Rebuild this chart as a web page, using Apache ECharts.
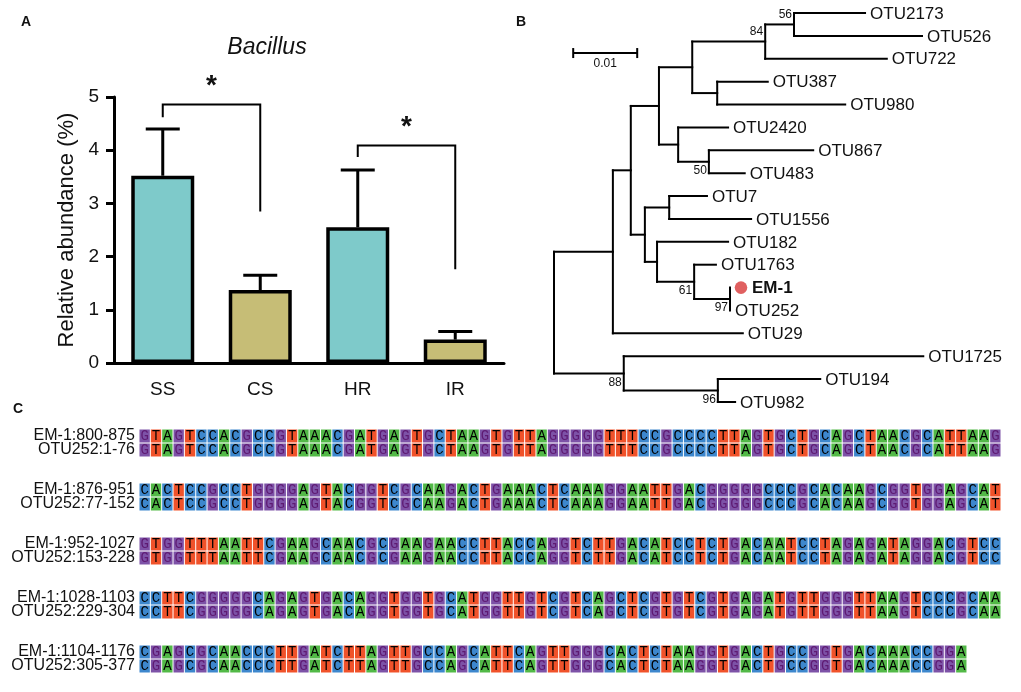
<!DOCTYPE html>
<html><head><meta charset="utf-8">
<script src="https://cdn.jsdelivr.net/npm/echarts@6/dist/echarts.min.js"></script>
<style>html,body{margin:0;padding:0;background:#fff;}#c{width:1021px;height:692px;}</style>
</head><body><div id="c"></div>
<script>
// ---------- Panel A: Bacillus relative abundance ----------
const groups = ['SS', 'CS', 'HR', 'IR'];
const abundance = [3.52, 1.37, 2.55, 0.44];
const abundanceErrTop = [4.40, 1.65, 3.63, 0.59];
const groupKind = [0, 1, 0, 1];
// significance brackets: [from, to, bracket level, left leg end, right leg end]
const sigBrackets = [[0, 1, 4.86, 4.62, 2.85], [2, 3, 4.09, 3.87, 1.76]];
const yTicks = [0, 1, 2, 3, 4, 5];

// ---------- Panel B: phylogenetic tree ----------
// [name, parent, depth from root (subst./site), bootstrap]
const treeNodes = [
  ['root', null, 0, null],
  ['n1', 'root', 0.0092, null],
  ['n2', 'n1', 0.0120, null],
  ['n3', 'n2', 0.0164, null],
  ['n4', 'n3', 0.0216, null],
  ['n5', 'n4', 0.0330, 84],
  ['n6', 'n5', 0.0375, 56],
  ['OTU2173', 'n6', 0.0486, null],
  ['OTU526', 'n6', 0.0575, null],
  ['OTU722', 'n5', 0.0520, null],
  ['n7', 'n4', 0.0255, null],
  ['OTU387', 'n7', 0.0334, null],
  ['OTU980', 'n7', 0.0455, null],
  ['n8', 'n3', 0.0194, null],
  ['OTU2420', 'n8', 0.0272, null],
  ['n9', 'n8', 0.0242, 50],
  ['OTU867', 'n9', 0.0405, null],
  ['OTU483', 'n9', 0.0298, null],
  ['n10', 'n2', 0.0142, null],
  ['n11', 'n10', 0.0180, null],
  ['OTU7', 'n11', 0.0239, null],
  ['OTU1556', 'n11', 0.0308, null],
  ['n12', 'n10', 0.0161, null],
  ['OTU182', 'n12', 0.0272, null],
  ['n13', 'n12', 0.0219, 61],
  ['OTU1763', 'n13', 0.0253, null],
  ['n14', 'n13', 0.0275, 97],
  ['EM-1', 'n14', 0.0275, null],
  ['OTU252', 'n14', 0.0275, null],
  ['OTU29', 'n1', 0.0295, null],
  ['n15', 'root', 0.0109, 88],
  ['OTU1725', 'n15', 0.0577, null],
  ['n16', 'n15', 0.0256, 96],
  ['OTU194', 'n16', 0.0416, null],
  ['OTU982', 'n16', 0.0283, null]
];
const highlightLeaf = 'EM-1';
const scaleBarLength = 0.01;
const scaleBarLabel = '0.01';

// ---------- Panel C: sequence alignment ----------
const seqLabelsEM1 = ['EM-1:800-875', 'EM-1:876-951', 'EM-1:952-1027', 'EM-1:1028-1103', 'EM-1:1104-1176'];
const seqLabelsOTU = ['OTU252:1-76', 'OTU252:77-152', 'OTU252:153-228', 'OTU252:229-304', 'OTU252:305-377'];
const seqEM1 = [
  'GTAGTCCACGCCGTAAACGATGAGTGCTAAGTGTTAGGGGGTTTCCGCCCCTTAGTGCTGCAGCTAACGCATTAAG',
  'CACTCCGCCTGGGGAGTACGGTCGCAAGACTGAAACTCAAAGGAATTGACGGGGGCCCGCACAAGCGGTGGAGCAT',
  'GTGGTTTAATTCGAAGCAACGCGAAGAACCTTACCAGGTCTTGACATCCTCTGACAATCCTAGAGATAGGACGTCC',
  'CCTTCGGGGGCAGAGTGACAGGTGGTGCATGGTTGTCGTCAGCTCGTGTCGTGAGATGTTGGGTTAAGTCCCGCAA',
  'CGAGCGCAACCCTTGATCTTAGTTGCCAGCATTCAGTTGGGCACTCTAAGGTGACTGCCGGTGACAAACCGGA'
];
const seqOTU252 = [
  'GTAGTCCACGCCGTAAACGATGAGTGCTAAGTGTTAGGGGGTTTCCGCCCCTTAGTGCTGCAGCTAACGCATTAAG',
  'CACTCCGCCTGGGGAGTACGGTCGCAAGACTGAAACTCAAAGGAATTGACGGGGGCCCGCACAAGCGGTGGAGCAT',
  'GTGGTTTAATTCGAAGCAACGCGAAGAACCTTACCAGGTCTTGACATCCTCTGACAATCCTAGAGATAGGACGTCC',
  'CCTTCGGGGGCAGAGTGACAGGTGGTGCATGGTTGTCGTCAGCTCGTGTCGTGAGATGTTGGGTTAAGTCCCGCAA',
  'CGAGCGCAACCCTTGATCTTAGTTGCCAGCATTCAGTTGGGCACTCTAAGGTGACTGCCGGTGACAAACCGGA'
];

// ---------- styles ----------
const FONT = 'Liberation Sans, Arial, sans-serif';
const MONO = 'Liberation Mono, Courier New, monospace';
const kindColors = ['#7ecaca', '#c6bd76'];
const baseColors = { A: '#52b947', C: '#3d87cd', G: '#7d52a7', T: '#f0522a' };
const baseTextColors = { A: '#000', C: '#000', G: '#5e1a72', T: '#000' };
const PAIR_GAP = 54 / 14; // in row units

// ---------- tree layout (computed from treeNodes) ----------
const nodeMap = {};
treeNodes.forEach(([name, parent, depth, bs]) => {
  nodeMap[name] = { name, parent, depth, bs, children: [] };
});
treeNodes.forEach(([name, parent]) => { if (parent) nodeMap[parent].children.push(nodeMap[name]); });
let leafCounter = 0;
function assignY(n) {
  if (!n.children.length) { n.y = leafCounter++; n.yMin = n.y; n.yMax = n.y; return n.y; }
  const ys = n.children.map(assignY);
  n.yMin = Math.min(...ys); n.yMax = Math.max(...ys);
  n.y = (n.yMin + n.yMax) / 2;
  return n.y;
}
assignY(nodeMap.root);
const treeLayout = treeNodes.map(([name]) => nodeMap[name]);

// ---------- sequence cell data ----------
const cellData = [];
const cellMeta = [];
seqEM1.forEach((s, p) => {
  [s, seqOTU252[p]].forEach((seq, r) => {
    for (let i = 0; i < seq.length; i++) {
      cellData.push([i, p * PAIR_GAP + r]);
      cellMeta.push(seq[i]);
    }
  });
});
const labelData = [];
const labelMeta = [];
seqLabelsEM1.forEach((l, p) => {
  labelData.push([0, p * PAIR_GAP]); labelMeta.push(l);
  labelData.push([0, p * PAIR_GAP + 1]); labelMeta.push(seqLabelsOTU[p]);
});

const chart = echarts.init(document.getElementById('c'), null, { renderer: 'canvas' });

const option = {
  animation: false,
  backgroundColor: '#fff',
  title: [
    { text: 'A', left: 16, top: 10, textStyle: { fontFamily: FONT, fontSize: 14, fontWeight: 'bold', color: '#111' } },
    { text: 'B', left: 511, top: 10, textStyle: { fontFamily: FONT, fontSize: 14, fontWeight: 'bold', color: '#111' } },
    { text: 'C', left: 8, top: 397, textStyle: { fontFamily: FONT, fontSize: 14, fontWeight: 'bold', color: '#111' } },
    { text: 'Bacillus', left: 262, textAlign: 'center', top: 31, textStyle: { fontFamily: FONT, fontSize: 23, fontStyle: 'italic', fontWeight: 'normal', color: '#111' } }
  ],
  grid: [
    { left: 114, top: 97, width: 390, height: 266 },
    { left: 554, top: 13, width: 448, height: 389 },
    { left: 139, top: 429, width: 862, height: (4 * PAIR_GAP + 2) * 14 }
  ],
  xAxis: [
    {
      gridIndex: 0, type: 'category', data: groups,
      axisLine: { lineStyle: { color: '#000', width: 3 } },
      axisTick: { alignWithLabel: true, length: 8, lineStyle: { color: '#000', width: 3 } },
      axisLabel: { fontFamily: FONT, fontSize: 19, color: '#111', margin: 17 }
    },
    { gridIndex: 1, type: 'value', min: 0, max: 0.07, show: false },
    { gridIndex: 2, type: 'value', min: 0, max: 76, show: false }
  ],
  yAxis: [
    {
      gridIndex: 0, type: 'value', min: yTicks[0], max: yTicks[yTicks.length - 1], interval: 1,
      splitLine: { show: false },
      axisLine: { show: true, lineStyle: { color: '#000', width: 3 } },
      axisTick: { show: true, length: 8, lineStyle: { color: '#000', width: 3 } },
      axisLabel: { fontFamily: FONT, fontSize: 19, color: '#111', margin: 15 },
      name: 'Relative abundance (%)', nameLocation: 'middle', nameGap: 36,
      nameTextStyle: { fontFamily: FONT, fontSize: 22, color: '#111' }
    },
    { gridIndex: 1, type: 'value', min: 0, max: 17, inverse: true, show: false },
    { gridIndex: 2, type: 'value', min: 0, max: 4 * PAIR_GAP + 2, inverse: true, show: false }
  ],
  series: [
    {
      type: 'bar', xAxisIndex: 0, yAxisIndex: 0, barWidth: 63, z: 3,
      data: abundance.map((v, i) => ({ value: v, itemStyle: { color: kindColors[groupKind[i]] } })),
      itemStyle: { borderColor: '#000', borderWidth: 3.5 }
    },
    {
      type: 'custom', xAxisIndex: 0, yAxisIndex: 0, z: 2,
      data: abundance.map((v, i) => [i, v, abundanceErrTop[i]]),
      renderItem: (params, api) => {
        const p0 = api.coord([api.value(0), api.value(1)]);
        const p1 = api.coord([api.value(0), api.value(2)]);
        const st = { stroke: '#000', lineWidth: 3 };
        return { type: 'group', children: [
          { type: 'line', shape: { x1: p0[0], y1: p0[1], x2: p1[0], y2: p1[1] }, style: st },
          { type: 'line', shape: { x1: p1[0] - 17, y1: p1[1], x2: p1[0] + 17, y2: p1[1] }, style: st }
        ] };
      }
    },
    {
      type: 'custom', xAxisIndex: 0, yAxisIndex: 0, z: 4,
      data: sigBrackets,
      renderItem: (params, api) => {
        const a = api.coord([api.value(0), api.value(2)]);
        const b = api.coord([api.value(1), api.value(2)]);
        const aL = api.coord([api.value(0), api.value(3)]);
        const bL = api.coord([api.value(1), api.value(4)]);
        return { type: 'group', children: [
          { type: 'polyline', shape: { points: [aL, a, b, bL] }, style: { stroke: '#000', lineWidth: 2, fill: null } },
          { type: 'text', x: (a[0] + b[0]) / 2, y: a[1] - 4, style: { text: '*', fontFamily: FONT, fontSize: 28, fontWeight: 'bold', fill: '#111', align: 'center', verticalAlign: 'bottom' } }
        ] };
      }
    },
    {
      type: 'custom', xAxisIndex: 1, yAxisIndex: 1,
      data: treeLayout.map(n => [n.depth, n.y]),
      renderItem: (params, api) => {
        const n = treeLayout[params.dataIndex];
        const ch = [];
        const st = { stroke: '#000', lineWidth: 2, lineCap: 'square' };
        const p = api.coord([n.depth, n.y]);
        if (n.parent) {
          const pp = api.coord([nodeMap[n.parent].depth, n.y]);
          ch.push({ type: 'line', shape: { x1: pp[0], y1: pp[1], x2: p[0], y2: p[1] }, style: st });
        }
        if (n.children.length) {
          const a = api.coord([n.depth, n.yMin]), b = api.coord([n.depth, n.yMax]);
          ch.push({ type: 'line', shape: { x1: a[0], y1: a[1], x2: b[0], y2: b[1] }, style: st });
          if (n.bs != null) {
            const above = n.y < 3;
            ch.push({ type: 'text', x: p[0] - 2, y: above ? p[1] - 10 : p[1] + 9,
              style: { text: String(n.bs), fontFamily: FONT, fontSize: 12, fill: '#111', align: 'right', verticalAlign: 'middle' } });
          }
        } else {
          const hl = n.name === highlightLeaf;
          if (hl) ch.push({ type: 'circle', shape: { cx: p[0] + 11, cy: p[1], r: 6.3 }, style: { fill: '#e06060' } });
          ch.push({ type: 'text', x: p[0] + (hl ? 22 : 5), y: p[1] + 1,
            style: { text: n.name, fontFamily: FONT, fontSize: 17, fontWeight: hl ? 'bold' : 'normal', fill: '#111', align: 'left', verticalAlign: 'middle' } });
        }
        return { type: 'group', children: ch };
      }
    },
    {
      type: 'custom', xAxisIndex: 1, yAxisIndex: 1,
      data: [[0.003, 1.75, 0.003 + scaleBarLength]],
      renderItem: (params, api) => {
        const a = api.coord([api.value(0), api.value(1)]);
        const b = api.coord([api.value(2), api.value(1)]);
        const st = { stroke: '#000', lineWidth: 2 };
        return { type: 'group', children: [
          { type: 'line', shape: { x1: a[0], y1: a[1], x2: b[0], y2: b[1] }, style: st },
          { type: 'line', shape: { x1: a[0], y1: a[1] - 5, x2: a[0], y2: a[1] + 5 }, style: st },
          { type: 'line', shape: { x1: b[0], y1: b[1] - 5, x2: b[0], y2: b[1] + 5 }, style: st },
          { type: 'text', x: (a[0] + b[0]) / 2, y: a[1] + 11, style: { text: scaleBarLabel, fontFamily: FONT, fontSize: 12, fill: '#111', align: 'center', verticalAlign: 'middle' } }
        ] };
      }
    },
    {
      type: 'custom', xAxisIndex: 2, yAxisIndex: 2,
      data: cellData,
      renderItem: (params, api) => {
        const b = cellMeta[params.dataIndex];
        const p = api.coord([api.value(0), api.value(1)]);
        const q = api.coord([api.value(0) + 1, api.value(1) + 1]);
        const w = q[0] - p[0], h = q[1] - p[1];
        return { type: 'group', children: [
          { type: 'rect', shape: { x: p[0] + 0.5, y: p[1] + 0.5, width: w - 1, height: h - 1 }, style: { fill: baseColors[b] } },
          { type: 'text', x: p[0] + w / 2, y: p[1] + h / 2 + 0.5, style: { text: b, fontFamily: MONO, fontSize: 14, fontWeight: 'normal', fill: baseTextColors[b], align: 'center', verticalAlign: 'middle' } }
        ] };
      }
    },
    {
      type: 'custom', xAxisIndex: 2, yAxisIndex: 2,
      data: labelData,
      renderItem: (params, api) => {
        const p = api.coord([api.value(0), api.value(1) + 0.5]);
        return { type: 'text', x: p[0] - 4, y: p[1], style: { text: labelMeta[params.dataIndex], fontFamily: FONT, fontSize: 16, fill: '#111', align: 'right', verticalAlign: 'middle' } };
      }
    }
  ]
};
chart.setOption(option);
</script>
</body></html>
